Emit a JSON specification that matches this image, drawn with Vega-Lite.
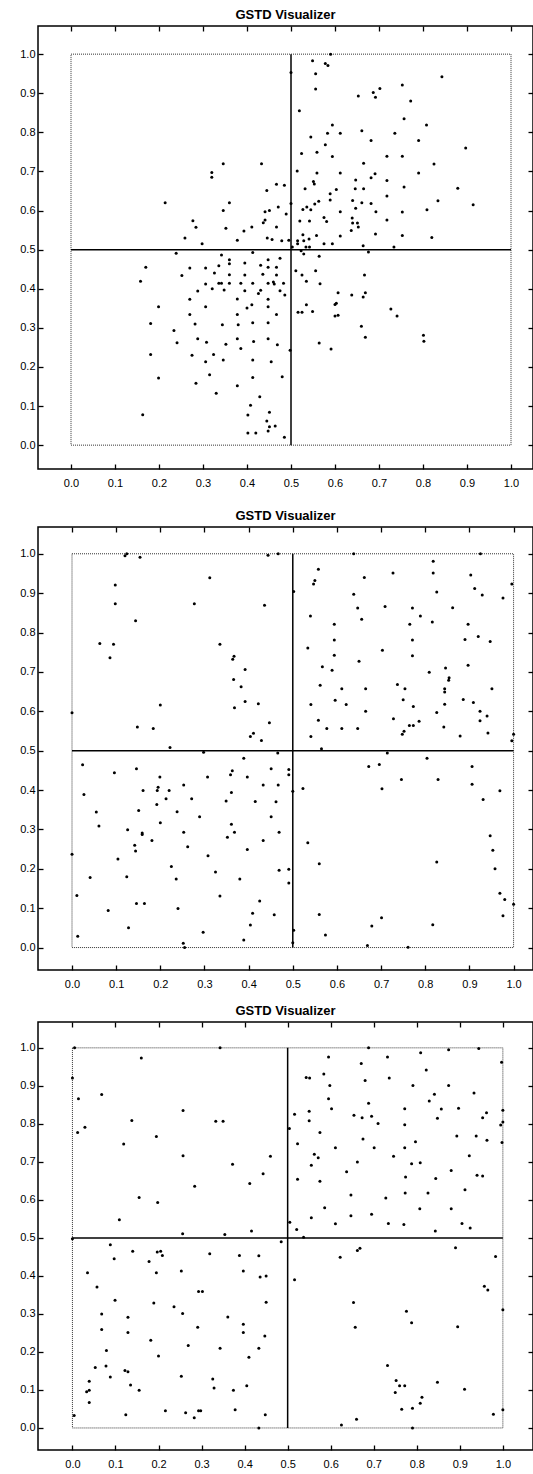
{
"$schema":"https://vega.github.io/schema/vega-lite/v6.json",
"padding":{"left":18,"top":8,"right":0,"bottom":0},
"background":"white",
"datasets":{
"sq":[{"x0":0,"x1":1,"y0":0,"y1":1}],
"cross":[{"x0":0.5,"x1":0.5,"y0":0,"y1":1},{"x0":0,"x1":1,"y0":0.5,"y1":0.5}],
"p1":[{"x":0.5,"y":0.953},{"x":0.214,"y":0.62},{"x":0.346,"y":0.72},{"x":0.32,"y":0.697},{"x":0.32,"y":0.685},{"x":0.433,"y":0.72},{"x":0.445,"y":0.651},{"x":0.467,"y":0.667},{"x":0.485,"y":0.665},{"x":0.5,"y":0.618},{"x":0.36,"y":0.62},{"x":0.346,"y":0.6},{"x":0.471,"y":0.609},{"x":0.441,"y":0.597},{"x":0.451,"y":0.6},{"x":0.489,"y":0.591},{"x":0.277,"y":0.574},{"x":0.284,"y":0.557},{"x":0.352,"y":0.555},{"x":0.393,"y":0.548},{"x":0.411,"y":0.558},{"x":0.441,"y":0.576},{"x":0.437,"y":0.569},{"x":0.467,"y":0.558},{"x":0.259,"y":0.53},{"x":0.378,"y":0.524},{"x":0.446,"y":0.53},{"x":0.457,"y":0.526},{"x":0.479,"y":0.523},{"x":0.495,"y":0.524},
{"x":0.298,"y":0.515},{"x":0.239,"y":0.491},{"x":0.413,"y":0.493},{"x":0.342,"y":0.486},{"x":0.36,"y":0.474},{"x":0.36,"y":0.464},{"x":0.395,"y":0.466},{"x":0.448,"y":0.474},{"x":0.475,"y":0.478},{"x":0.17,"y":0.455},{"x":0.27,"y":0.453},{"x":0.306,"y":0.453},{"x":0.336,"y":0.459},{"x":0.431,"y":0.46},{"x":0.448,"y":0.455},{"x":0.467,"y":0.455},{"x":0.326,"y":0.44},{"x":0.252,"y":0.434},{"x":0.36,"y":0.436},{"x":0.395,"y":0.435},{"x":0.436,"y":0.437},{"x":0.467,"y":0.435},{"x":0.158,"y":0.419},{"x":0.306,"y":0.412},{"x":0.336,"y":0.414},{"x":0.342,"y":0.414},{"x":0.36,"y":0.414},{"x":0.386,"y":0.414},{"x":0.413,"y":0.414},{"x":0.448,"y":0.414},{"x":0.46,"y":0.417},{"x":0.462,"y":0.412},{"x":0.483,"y":0.414},{"x":0.288,"y":0.394},{"x":0.321,"y":0.4},{"x":0.348,"y":0.397},{"x":0.395,"y":0.395},{"x":0.431,"y":0.396},{"x":0.426,"y":0.388},{"x":0.475,"y":0.395},{"x":0.486,"y":0.384},{"x":0.27,"y":0.373},{"x":0.378,"y":0.374},{"x":0.448,"y":0.373},{"x":0.199,"y":0.354},{"x":0.306,"y":0.354},{"x":0.4,"y":0.351},{"x":0.411,"y":0.359},{"x":0.448,"y":0.354},{"x":0.27,"y":0.334},{"x":0.378,"y":0.334},{"x":0.467,"y":0.334},{"x":0.181,"y":0.311},{"x":0.282,"y":0.31},{"x":0.344,"y":0.308},{"x":0.38,"y":0.308},{"x":0.413,"y":0.313},{"x":0.448,"y":0.313},{"x":0.234,"y":0.293},{"x":0.241,"y":0.262},{"x":0.288,"y":0.272},{"x":0.308,"y":0.263},{"x":0.352,"y":0.258},{"x":0.378,"y":0.272},{"x":0.386,"y":0.247},{"x":0.415,"y":0.265},{"x":0.448,"y":0.272},{"x":0.469,"y":0.257},{"x":0.498,"y":0.243},{"x":0.181,"y":0.232},{"x":0.275,"y":0.23},{"x":0.306,"y":0.213},{"x":0.324,"y":0.232},{"x":0.346,"y":0.218},{"x":0.413,"y":0.218},{"x":0.455,"y":0.213},{"x":0.199,"y":0.172},{"x":0.284,"y":0.158},{"x":0.315,"y":0.18},{"x":0.378,"y":0.152},{"x":0.413,"y":0.173},{"x":0.48,"y":0.175},{"x":0.33,"y":0.133},{"x":0.429,"y":0.124},{"x":0.408,"y":0.102},{"x":0.163,"y":0.078},{"x":0.402,"y":0.077},{"x":0.451,"y":0.084},{"x":0.445,"y":0.062},{"x":0.451,"y":0.047},{"x":0.464,"y":0.049},{"x":0.448,"y":0.036},{"x":0.402,"y":0.031},{"x":0.42,"y":0.031},{"x":0.485,"y":0.02},
{"x":0.59,"y":1.0},{"x":0.549,"y":0.983},{"x":0.578,"y":0.976},{"x":0.584,"y":0.971},{"x":0.556,"y":0.95},{"x":0.556,"y":0.911},{"x":0.843,"y":0.942},{"x":0.753,"y":0.921},{"x":0.702,"y":0.912},{"x":0.687,"y":0.902},{"x":0.692,"y":0.89},{"x":0.653,"y":0.893},{"x":0.772,"y":0.88},{"x":0.519,"y":0.855},{"x":0.757,"y":0.835},{"x":0.594,"y":0.819},{"x":0.808,"y":0.819},{"x":0.583,"y":0.798},{"x":0.612,"y":0.798},{"x":0.661,"y":0.804},{"x":0.736,"y":0.798},{"x":0.545,"y":0.788},{"x":0.682,"y":0.779},{"x":0.79,"y":0.779},{"x":0.578,"y":0.768},{"x":0.897,"y":0.76},{"x":0.524,"y":0.746},{"x":0.559,"y":0.749},{"x":0.594,"y":0.738},{"x":0.718,"y":0.739},{"x":0.753,"y":0.739},{"x":0.665,"y":0.721},{"x":0.825,"y":0.719},{"x":0.514,"y":0.701},{"x":0.559,"y":0.696},{"x":0.612,"y":0.696},{"x":0.79,"y":0.696},{"x":0.691,"y":0.694},{"x":0.682,"y":0.684},{"x":0.551,"y":0.674},{"x":0.553,"y":0.668},{"x":0.647,"y":0.678},{"x":0.718,"y":0.677},{"x":0.532,"y":0.656},{"x":0.603,"y":0.654},{"x":0.646,"y":0.656},{"x":0.665,"y":0.656},{"x":0.757,"y":0.66},{"x":0.879,"y":0.657},{"x":0.589,"y":0.643},{"x":0.718,"y":0.637},{"x":0.563,"y":0.624},{"x":0.589,"y":0.627},{"x":0.64,"y":0.626},{"x":0.661,"y":0.62},{"x":0.682,"y":0.618},{"x":0.834,"y":0.625},{"x":0.914,"y":0.615},{"x":0.527,"y":0.603},{"x":0.536,"y":0.609},{"x":0.545,"y":0.602},{"x":0.554,"y":0.617},{"x":0.612,"y":0.597},{"x":0.647,"y":0.606},{"x":0.693,"y":0.597},{"x":0.753,"y":0.596},{"x":0.809,"y":0.602},{"x":0.52,"y":0.573},{"x":0.542,"y":0.573},{"x":0.575,"y":0.582},{"x":0.581,"y":0.572},{"x":0.639,"y":0.581},{"x":0.64,"y":0.568},{"x":0.651,"y":0.568},{"x":0.653,"y":0.558},{"x":0.718,"y":0.576},{"x":0.637,"y":0.549},{"x":0.692,"y":0.54},{"x":0.753,"y":0.536},{"x":0.527,"y":0.538},{"x":0.558,"y":0.536},{"x":0.612,"y":0.535},{"x":0.82,"y":0.531},{"x":0.515,"y":0.523},{"x":0.529,"y":0.523},{"x":0.541,"y":0.527},
{"x":0.515,"y":0.515},{"x":0.575,"y":0.515},{"x":0.594,"y":0.515},{"x":0.664,"y":0.51},{"x":0.503,"y":0.507},{"x":0.534,"y":0.507},{"x":0.542,"y":0.507},{"x":0.734,"y":0.507},{"x":0.523,"y":0.497},{"x":0.529,"y":0.489},{"x":0.676,"y":0.494},{"x":0.564,"y":0.483},{"x":0.511,"y":0.446},{"x":0.556,"y":0.446},{"x":0.525,"y":0.435},{"x":0.667,"y":0.435},{"x":0.535,"y":0.419},{"x":0.566,"y":0.413},{"x":0.607,"y":0.39},{"x":0.638,"y":0.384},{"x":0.669,"y":0.39},{"x":0.664,"y":0.379},{"x":0.535,"y":0.359},{"x":0.603,"y":0.363},{"x":0.6,"y":0.36},{"x":0.516,"y":0.34},{"x":0.525,"y":0.34},{"x":0.549,"y":0.342},{"x":0.727,"y":0.348},{"x":0.741,"y":0.33},{"x":0.6,"y":0.33},{"x":0.607,"y":0.332},{"x":0.66,"y":0.304},{"x":0.669,"y":0.276},{"x":0.801,"y":0.281},{"x":0.802,"y":0.266},{"x":0.564,"y":0.261},{"x":0.591,"y":0.246}],
"p2":[{"x":0.12,"y":0.995},{"x":0.124,"y":1.0},{"x":0.154,"y":0.991},{"x":0.098,"y":0.921},{"x":0.098,"y":0.873},{"x":0.144,"y":0.83},{"x":0.277,"y":0.873},{"x":0.312,"y":0.939},{"x":0.436,"y":0.869},{"x":0.444,"y":0.996},{"x":0.467,"y":1.0},{"x":0.063,"y":0.772},{"x":0.094,"y":0.77},{"x":0.086,"y":0.736},{"x":0.335,"y":0.77},{"x":0.364,"y":0.732},{"x":0.367,"y":0.74},{"x":0.392,"y":0.706},{"x":0.366,"y":0.681},{"x":0.383,"y":0.662},{"x":0.392,"y":0.625},{"x":0.368,"y":0.609},{"x":0.422,"y":0.619},{"x":0.2,"y":0.616},{"x":0.447,"y":0.571},{"x":0.0,"y":0.596},{"x":0.502,"y":0.904},
{"x":0.638,"y":1.0},{"x":0.925,"y":1.0},{"x":0.818,"y":0.981},{"x":0.558,"y":0.961},{"x":0.55,"y":0.932},{"x":0.547,"y":0.923},{"x":0.662,"y":0.94},{"x":0.727,"y":0.951},{"x":0.818,"y":0.951},{"x":0.903,"y":0.946},{"x":0.996,"y":0.923},{"x":0.912,"y":0.912},{"x":0.826,"y":0.903},{"x":0.929,"y":0.895},{"x":0.976,"y":0.888},{"x":0.638,"y":0.897},{"x":0.647,"y":0.862},{"x":0.709,"y":0.866},{"x":0.771,"y":0.862},{"x":0.862,"y":0.863},{"x":0.54,"y":0.842},{"x":0.656,"y":0.834},{"x":0.789,"y":0.842},{"x":0.594,"y":0.821},{"x":0.765,"y":0.821},{"x":0.816,"y":0.827},{"x":0.897,"y":0.821},{"x":0.594,"y":0.781},{"x":0.771,"y":0.781},{"x":0.89,"y":0.782},{"x":0.92,"y":0.79},{"x":0.947,"y":0.777},{"x":0.534,"y":0.761},{"x":0.703,"y":0.755},{"x":0.594,"y":0.742},{"x":0.771,"y":0.741},{"x":0.65,"y":0.727},{"x":0.567,"y":0.713},{"x":0.589,"y":0.704},{"x":0.809,"y":0.699},{"x":0.846,"y":0.71},{"x":0.897,"y":0.717},{"x":0.854,"y":0.685},{"x":0.853,"y":0.679},{"x":0.562,"y":0.666},{"x":0.611,"y":0.657},{"x":0.665,"y":0.657},{"x":0.737,"y":0.668},{"x":0.754,"y":0.657},{"x":0.844,"y":0.657},{"x":0.844,"y":0.649},{"x":0.951,"y":0.657},{"x":0.541,"y":0.617},{"x":0.596,"y":0.628},{"x":0.621,"y":0.617},{"x":0.75,"y":0.629},{"x":0.773,"y":0.612},{"x":0.844,"y":0.618},{"x":0.886,"y":0.63},{"x":0.909,"y":0.622},{"x":0.665,"y":0.6},{"x":0.826,"y":0.597},{"x":0.924,"y":0.6},{"x":0.94,"y":0.588},{"x":0.558,"y":0.577},{"x":0.728,"y":0.581},{"x":0.764,"y":0.564},{"x":0.773,"y":0.564},{"x":0.786,"y":0.575},{"x":0.842,"y":0.56},{"x":0.924,"y":0.576},
{"x":0.541,"y":0.536},{"x":0.577,"y":0.556},{"x":0.611,"y":0.556},{"x":0.647,"y":0.556},{"x":0.748,"y":0.542},{"x":0.752,"y":0.549},{"x":0.879,"y":0.537},{"x":0.942,"y":0.545},{"x":0.996,"y":0.525},{"x":1.0,"y":0.542},{"x":0.565,"y":0.505},{"x":0.714,"y":0.494},{"x":0.804,"y":0.481},{"x":0.672,"y":0.46},{"x":0.696,"y":0.465},{"x":0.906,"y":0.46},{"x":0.746,"y":0.427},{"x":0.829,"y":0.427},{"x":0.906,"y":0.415},{"x":0.523,"y":0.404},{"x":0.702,"y":0.403},{"x":0.969,"y":0.398},{"x":0.931,"y":0.376},{"x":0.947,"y":0.284},{"x":0.534,"y":0.266},{"x":0.953,"y":0.247},{"x":0.56,"y":0.213},{"x":0.826,"y":0.217},{"x":0.958,"y":0.2},{"x":0.969,"y":0.138},{"x":0.98,"y":0.122},{"x":1.0,"y":0.11},{"x":0.56,"y":0.084},{"x":0.976,"y":0.081},{"x":0.701,"y":0.076},{"x":0.679,"y":0.055},{"x":0.817,"y":0.058},{"x":0.574,"y":0.032},{"x":0.502,"y":0.044},{"x":0.5,"y":0.012},{"x":0.669,"y":0.005},{"x":0.761,"y":0.001},
{"x":0.148,"y":0.56},{"x":0.184,"y":0.556},{"x":0.404,"y":0.536},{"x":0.411,"y":0.544},{"x":0.429,"y":0.526},{"x":0.222,"y":0.508},{"x":0.298,"y":0.496},{"x":0.466,"y":0.494},{"x":0.389,"y":0.481},{"x":0.024,"y":0.464},{"x":0.096,"y":0.444},{"x":0.146,"y":0.454},{"x":0.199,"y":0.433},{"x":0.307,"y":0.433},{"x":0.359,"y":0.439},{"x":0.363,"y":0.449},{"x":0.397,"y":0.433},{"x":0.451,"y":0.454},{"x":0.491,"y":0.452},{"x":0.491,"y":0.439},{"x":0.027,"y":0.389},{"x":0.161,"y":0.399},{"x":0.193,"y":0.399},{"x":0.195,"y":0.407},{"x":0.22,"y":0.399},{"x":0.253,"y":0.413},{"x":0.271,"y":0.378},{"x":0.213,"y":0.378},{"x":0.192,"y":0.363},{"x":0.361,"y":0.394},{"x":0.349,"y":0.372},{"x":0.415,"y":0.371},{"x":0.433,"y":0.413},{"x":0.467,"y":0.413},{"x":0.462,"y":0.37},{"x":0.5,"y":0.397},{"x":0.055,"y":0.344},{"x":0.151,"y":0.348},{"x":0.238,"y":0.345},{"x":0.289,"y":0.332},{"x":0.451,"y":0.332},{"x":0.061,"y":0.309},{"x":0.126,"y":0.299},{"x":0.2,"y":0.317},{"x":0.159,"y":0.291},{"x":0.159,"y":0.287},{"x":0.253,"y":0.293},{"x":0.361,"y":0.313},{"x":0.368,"y":0.293},{"x":0.352,"y":0.28},{"x":0.469,"y":0.293},{"x":0.142,"y":0.26},{"x":0.144,"y":0.245},{"x":0.181,"y":0.272},{"x":0.262,"y":0.256},{"x":0.397,"y":0.249},{"x":0.433,"y":0.272},{"x":0.0,"y":0.237},{"x":0.104,"y":0.225},{"x":0.308,"y":0.233},{"x":0.225,"y":0.206},{"x":0.325,"y":0.192},{"x":0.469,"y":0.196},{"x":0.491,"y":0.199},{"x":0.041,"y":0.178},{"x":0.124,"y":0.18},{"x":0.236,"y":0.174},{"x":0.38,"y":0.174},{"x":0.491,"y":0.164},{"x":0.011,"y":0.132},{"x":0.335,"y":0.131},{"x":0.146,"y":0.112},{"x":0.164,"y":0.112},{"x":0.425,"y":0.118},{"x":0.082,"y":0.094},{"x":0.24,"y":0.099},{"x":0.409,"y":0.087},{"x":0.458,"y":0.083},{"x":0.128,"y":0.05},{"x":0.297,"y":0.039},{"x":0.404,"y":0.057},{"x":0.013,"y":0.029},{"x":0.389,"y":0.019},{"x":0.252,"y":0.011},{"x":0.255,"y":0.0}],
"p3":[{"x":0.005,"y":1.0},{"x":0.343,"y":1.0},{"x":0.16,"y":0.973},{"x":0.0,"y":0.921},{"x":0.014,"y":0.866},{"x":0.068,"y":0.877},{"x":0.012,"y":0.777},{"x":0.029,"y":0.791},{"x":0.138,"y":0.809},{"x":0.257,"y":0.835},{"x":0.333,"y":0.807},{"x":0.35,"y":0.807},{"x":0.195,"y":0.767},{"x":0.119,"y":0.747},{"x":0.257,"y":0.716},{"x":0.372,"y":0.694},{"x":0.46,"y":0.715},{"x":0.443,"y":0.669},{"x":0.412,"y":0.643},{"x":0.284,"y":0.636},{"x":0.155,"y":0.606},{"x":0.198,"y":0.593},
{"x":0.688,"y":1.0},{"x":0.809,"y":0.987},{"x":0.874,"y":0.995},{"x":0.944,"y":0.998},{"x":0.595,"y":0.976},{"x":0.732,"y":0.976},{"x":0.671,"y":0.959},{"x":0.997,"y":0.962},{"x":0.822,"y":0.942},{"x":0.543,"y":0.922},{"x":0.551,"y":0.921},{"x":0.584,"y":0.931},{"x":0.68,"y":0.914},{"x":0.736,"y":0.921},{"x":0.598,"y":0.901},{"x":0.791,"y":0.901},{"x":0.874,"y":0.901},{"x":0.933,"y":0.881},{"x":0.595,"y":0.866},{"x":0.841,"y":0.878},{"x":0.829,"y":0.86},{"x":0.688,"y":0.854},{"x":0.602,"y":0.84},{"x":0.772,"y":0.84},{"x":0.857,"y":0.839},{"x":0.897,"y":0.841},{"x":1.0,"y":0.836},{"x":0.516,"y":0.825},{"x":0.55,"y":0.833},{"x":0.55,"y":0.808},{"x":0.654,"y":0.823},{"x":0.673,"y":0.816},{"x":0.695,"y":0.82},{"x":0.71,"y":0.801},{"x":0.848,"y":0.815},{"x":0.953,"y":0.816},{"x":0.962,"y":0.829},{"x":0.772,"y":0.798},{"x":0.995,"y":0.797},{"x":1.0,"y":0.805},{"x":0.504,"y":0.788},{"x":0.575,"y":0.777},{"x":0.523,"y":0.748},{"x":0.611,"y":0.737},{"x":0.675,"y":0.76},{"x":0.701,"y":0.737},{"x":0.772,"y":0.737},{"x":0.797,"y":0.753},{"x":0.893,"y":0.768},{"x":0.938,"y":0.768},{"x":0.963,"y":0.757},{"x":0.998,"y":0.751},{"x":0.562,"y":0.72},{"x":0.571,"y":0.711},{"x":0.555,"y":0.691},{"x":0.662,"y":0.7},{"x":0.746,"y":0.715},{"x":0.788,"y":0.695},{"x":0.808,"y":0.698},{"x":0.922,"y":0.716},{"x":0.637,"y":0.674},{"x":0.774,"y":0.66},{"x":0.844,"y":0.656},{"x":0.88,"y":0.677},{"x":0.94,"y":0.665},{"x":0.953,"y":0.663},{"x":0.523,"y":0.654},{"x":0.575,"y":0.649},{"x":0.912,"y":0.627},{"x":0.647,"y":0.613},{"x":0.728,"y":0.605},{"x":0.773,"y":0.618},{"x":0.826,"y":0.618},{"x":0.586,"y":0.579},{"x":0.807,"y":0.577},{"x":0.88,"y":0.577},
{"x":0.505,"y":0.541},{"x":0.521,"y":0.522},{"x":0.555,"y":0.553},{"x":0.611,"y":0.537},{"x":0.647,"y":0.558},{"x":0.695,"y":0.562},{"x":0.734,"y":0.538},{"x":0.77,"y":0.535},{"x":0.843,"y":0.518},{"x":0.905,"y":0.538},{"x":0.924,"y":0.526},{"x":0.537,"y":0.502},{"x":0.622,"y":0.449},{"x":0.662,"y":0.467},{"x":0.668,"y":0.473},{"x":0.89,"y":0.474},{"x":0.983,"y":0.451},{"x":0.516,"y":0.39},{"x":0.957,"y":0.373},{"x":0.965,"y":0.363},{"x":0.653,"y":0.33},{"x":0.776,"y":0.307},{"x":0.788,"y":0.277},{"x":0.657,"y":0.265},{"x":0.895,"y":0.266},{"x":1.0,"y":0.311},{"x":0.732,"y":0.164},{"x":0.752,"y":0.125},{"x":0.76,"y":0.111},{"x":0.772,"y":0.111},{"x":0.75,"y":0.093},{"x":0.848,"y":0.12},{"x":0.911,"y":0.102},{"x":0.812,"y":0.081},{"x":0.808,"y":0.065},{"x":0.79,"y":0.052},{"x":0.765,"y":0.049},{"x":0.978,"y":0.036},{"x":1.0,"y":0.048},{"x":0.66,"y":0.023},{"x":0.625,"y":0.008},{"x":0.79,"y":0.0},
{"x":0.109,"y":0.548},{"x":0.256,"y":0.511},{"x":0.354,"y":0.509},{"x":0.416,"y":0.518},{"x":0.0,"y":0.498},{"x":0.088,"y":0.482},{"x":0.485,"y":0.49},{"x":0.14,"y":0.465},{"x":0.097,"y":0.445},{"x":0.178,"y":0.438},{"x":0.197,"y":0.463},{"x":0.205,"y":0.465},{"x":0.209,"y":0.454},{"x":0.319,"y":0.458},{"x":0.388,"y":0.454},{"x":0.433,"y":0.453},{"x":0.035,"y":0.408},{"x":0.195,"y":0.408},{"x":0.253,"y":0.413},{"x":0.397,"y":0.413},{"x":0.436,"y":0.397},{"x":0.45,"y":0.4},{"x":0.057,"y":0.371},{"x":0.099,"y":0.336},{"x":0.189,"y":0.329},{"x":0.236,"y":0.319},{"x":0.293,"y":0.359},{"x":0.302,"y":0.359},{"x":0.45,"y":0.331},{"x":0.068,"y":0.3},{"x":0.129,"y":0.291},{"x":0.256,"y":0.301},{"x":0.361,"y":0.292},{"x":0.068,"y":0.259},{"x":0.129,"y":0.251},{"x":0.291,"y":0.265},{"x":0.397,"y":0.273},{"x":0.397,"y":0.251},{"x":0.447,"y":0.242},{"x":0.079,"y":0.204},{"x":0.182,"y":0.231},{"x":0.269,"y":0.217},{"x":0.343,"y":0.21},{"x":0.433,"y":0.21},{"x":0.2,"y":0.189},{"x":0.41,"y":0.186},{"x":0.053,"y":0.159},{"x":0.078,"y":0.163},{"x":0.122,"y":0.151},{"x":0.129,"y":0.148},{"x":0.088,"y":0.134},{"x":0.253,"y":0.136},{"x":0.039,"y":0.123},{"x":0.135,"y":0.113},{"x":0.155,"y":0.099},{"x":0.326,"y":0.129},{"x":0.329,"y":0.105},{"x":0.374,"y":0.099},{"x":0.405,"y":0.111},{"x":0.033,"y":0.095},{"x":0.039,"y":0.099},{"x":0.039,"y":0.067},{"x":0.216,"y":0.045},{"x":0.124,"y":0.035},{"x":0.263,"y":0.04},{"x":0.293,"y":0.045},{"x":0.298,"y":0.045},{"x":0.283,"y":0.027},{"x":0.378,"y":0.048},{"x":0.448,"y":0.035},{"x":0.433,"y":0.0},{"x":0.004,"y":0.033}]
},
"vconcat":[
{"title":"GSTD Visualizer","width":495,"height":443,
 "resolve":{"axis":{"x":"independent","y":"independent"}},
 "layer":[
  {"data":{"name":"sq"},"mark":{"type":"rect","fillOpacity":0,"stroke":"#333","strokeWidth":1,"strokeDash":[1,1]},
   "encoding":{"x":{"field":"x0","type":"quantitative","scale":{"domain":[-0.075,1.05],"nice":false,"zero":false},"axis":{"orient":"top","labels":false,"title":null,"values":[0,0.1,0.2,0.3,0.4,0.5,0.6,0.7,0.8,0.9,1.0]}},"x2":{"field":"x1"},
   "y":{"field":"y0","type":"quantitative","scale":{"domain":[-0.061,1.072],"nice":false,"zero":false},"axis":{"orient":"right","labels":false,"title":null,"values":[0,0.1,0.2,0.3,0.4,0.5,0.6,0.7,0.8,0.9,1.0]}},"y2":{"field":"y1"}}},
  {"data":{"name":"cross"},"mark":{"type":"rule","color":"black","strokeWidth":1.5},
   "encoding":{"x":{"field":"x0","type":"quantitative","scale":{"domain":[-0.075,1.05],"nice":false,"zero":false},"axis":null},"x2":{"field":"x1"},
   "y":{"field":"y0","type":"quantitative","scale":{"domain":[-0.061,1.072],"nice":false,"zero":false},"axis":null},"y2":{"field":"y1"}}},
  {"data":{"name":"p1"},"mark":{"type":"point","shape":"circle","filled":true,"size":9,"color":"black","opacity":1},
   "encoding":{"x":{"field":"x","type":"quantitative","scale":{"domain":[-0.075,1.05],"nice":false,"zero":false},"axis":{"orient":"bottom","title":null,"format":".1f","values":[0,0.1,0.2,0.3,0.4,0.5,0.6,0.7,0.8,0.9,1.0]}},
   "y":{"field":"y","type":"quantitative","scale":{"domain":[-0.061,1.072],"nice":false,"zero":false},"axis":{"orient":"left","title":null,"format":".1f","values":[0,0.1,0.2,0.3,0.4,0.5,0.6,0.7,0.8,0.9,1.0]}}}}
 ]},
{"spacing":14,"vconcat":[
{"title":"GSTD Visualizer","width":495,"height":443,
 "resolve":{"axis":{"x":"independent","y":"independent"}},
 "layer":[
  {"data":{"name":"sq"},"mark":{"type":"rect","fillOpacity":0,"stroke":"#333","strokeWidth":1,"strokeDash":[1,1]},
   "encoding":{"x":{"field":"x0","type":"quantitative","scale":{"domain":[-0.077,1.044],"nice":false,"zero":false},"axis":{"orient":"top","labels":false,"title":null,"values":[0,0.1,0.2,0.3,0.4,0.5,0.6,0.7,0.8,0.9,1.0]}},"x2":{"field":"x1"},
   "y":{"field":"y0","type":"quantitative","scale":{"domain":[-0.057,1.068],"nice":false,"zero":false},"axis":{"orient":"right","labels":false,"title":null,"values":[0,0.1,0.2,0.3,0.4,0.5,0.6,0.7,0.8,0.9,1.0]}},"y2":{"field":"y1"}}},
  {"data":{"name":"cross"},"mark":{"type":"rule","color":"black","strokeWidth":1.5},
   "encoding":{"x":{"field":"x0","type":"quantitative","scale":{"domain":[-0.077,1.044],"nice":false,"zero":false},"axis":null},"x2":{"field":"x1"},
   "y":{"field":"y0","type":"quantitative","scale":{"domain":[-0.057,1.068],"nice":false,"zero":false},"axis":null},"y2":{"field":"y1"}}},
  {"data":{"name":"p2"},"mark":{"type":"point","shape":"circle","filled":true,"size":9,"color":"black","opacity":1},
   "encoding":{"x":{"field":"x","type":"quantitative","scale":{"domain":[-0.077,1.044],"nice":false,"zero":false},"axis":{"orient":"bottom","title":null,"format":".1f","values":[0,0.1,0.2,0.3,0.4,0.5,0.6,0.7,0.8,0.9,1.0]}},
   "y":{"field":"y","type":"quantitative","scale":{"domain":[-0.057,1.068],"nice":false,"zero":false},"axis":{"orient":"left","title":null,"format":".1f","values":[0,0.1,0.2,0.3,0.4,0.5,0.6,0.7,0.8,0.9,1.0]}}}}
 ]},
{"title":"GSTD Visualizer","width":495,"height":428,
 "resolve":{"axis":{"x":"independent","y":"independent"}},
 "layer":[
  {"data":{"name":"sq"},"mark":{"type":"rect","fillOpacity":0,"stroke":"#333","strokeWidth":1,"strokeDash":[1,1]},
   "encoding":{"x":{"field":"x0","type":"quantitative","scale":{"domain":[-0.08,1.07],"nice":false,"zero":false},"axis":{"orient":"top","labels":false,"title":null,"values":[0,0.1,0.2,0.3,0.4,0.5,0.6,0.7,0.8,0.9,1.0]}},"x2":{"field":"x1"},
   "y":{"field":"y0","type":"quantitative","scale":{"domain":[-0.058,1.068],"nice":false,"zero":false},"axis":{"orient":"right","labels":false,"title":null,"values":[0,0.1,0.2,0.3,0.4,0.5,0.6,0.7,0.8,0.9,1.0]}},"y2":{"field":"y1"}}},
  {"data":{"name":"cross"},"mark":{"type":"rule","color":"black","strokeWidth":1.5},
   "encoding":{"x":{"field":"x0","type":"quantitative","scale":{"domain":[-0.08,1.07],"nice":false,"zero":false},"axis":null},"x2":{"field":"x1"},
   "y":{"field":"y0","type":"quantitative","scale":{"domain":[-0.058,1.068],"nice":false,"zero":false},"axis":null},"y2":{"field":"y1"}}},
  {"data":{"name":"p3"},"mark":{"type":"point","shape":"circle","filled":true,"size":9,"color":"black","opacity":1},
   "encoding":{"x":{"field":"x","type":"quantitative","scale":{"domain":[-0.08,1.07],"nice":false,"zero":false},"axis":{"orient":"bottom","title":null,"format":".1f","values":[0,0.1,0.2,0.3,0.4,0.5,0.6,0.7,0.8,0.9,1.0]}},
   "y":{"field":"y","type":"quantitative","scale":{"domain":[-0.058,1.068],"nice":false,"zero":false},"axis":{"orient":"left","title":null,"format":".1f","values":[0,0.1,0.2,0.3,0.4,0.5,0.6,0.7,0.8,0.9,1.0]}}}}
 ]}
]}
],
"spacing":20,
"config":{
 "view":{"stroke":"black","strokeWidth":1.5},
 "axis":{"grid":false,"domain":false,"tickSize":-5,"tickColor":"black","tickWidth":1.3,"labelFont":"Liberation Sans","labelFontSize":11,"labelColor":"black","labelFlush":false,"labelOverlap":false},
 "axisX":{"labelPadding":13},
 "axisY":{"labelPadding":8},
 "title":{"font":"Liberation Sans","fontSize":13,"fontWeight":"bold","color":"black","anchor":"middle","offset":3}
}
}
